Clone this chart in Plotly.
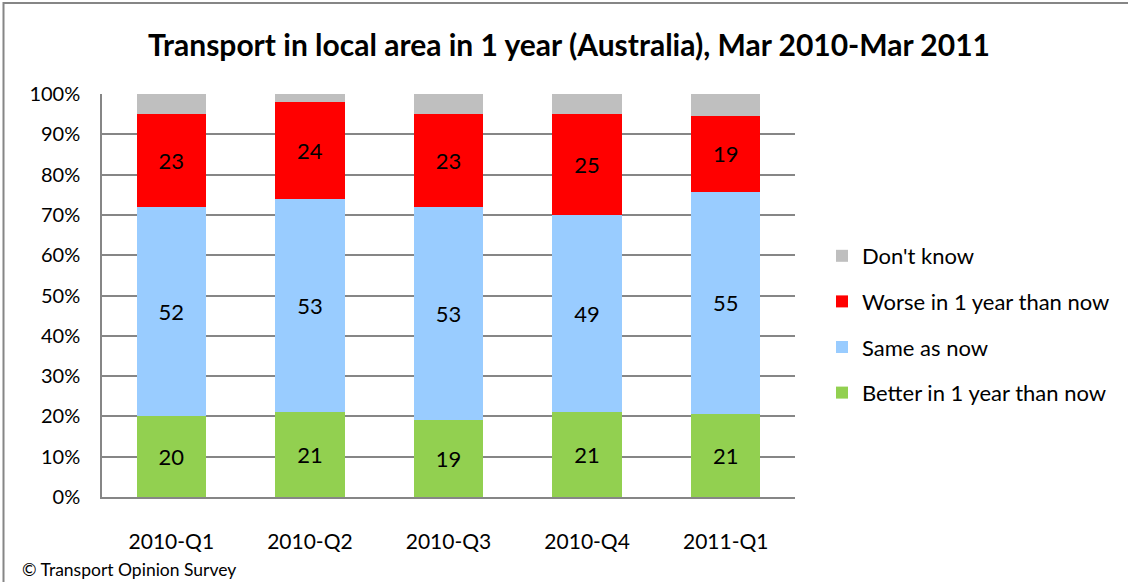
import plotly.graph_objects as go

categories = ["2010-Q1", "2010-Q2", "2010-Q3", "2010-Q4", "2011-Q1"]
better = [20, 21, 19, 21, 20.6]
same = [52, 53, 53, 49, 55.2]
worse = [23, 24, 23, 25, 18.7]
dont_know = [5, 2, 5, 5, 5.5]

series = [
    ("Better in 1 year than now", better, "#92D050", True, 4),
    ("Same as now", same, "#99CCFF", True, 3),
    ("Worse in 1 year than now", worse, "#FF0000", True, 2),
    ("Don't know", dont_know, "#BFBFBF", False, 1),
]

W, H = 1128, 582
L, R, T, B = 102, 333, 94, 85
pw, ph = W - L - R, H - T - B

font_family = "Lato, Liberation Sans, Arial, sans-serif"

fig = go.Figure()
for name, vals, color, show_text, rank in series:
    fig.add_trace(go.Bar(
        x=categories,
        y=vals,
        name=name,
        legendgroup=name,
        legendrank=rank,
        marker=dict(color=color, line=dict(width=0)),
        text=[f"{v:.0f}" for v in vals] if show_text else None,
        textposition="inside" if show_text else "none",
        insidetextanchor="middle",
        constraintext="none",
        textangle=0,
        textfont=dict(family=font_family, size=22, color="black"),
        hoverinfo="x+y+name",
    ))

fig.update_layout(
    width=W,
    height=H,
    barmode="stack",
    bargap=0.5,
    paper_bgcolor="white",
    plot_bgcolor="white",
    margin=dict(l=L, r=R, t=T, b=B, autoexpand=False),
    title=dict(
        text="<b>Transport in local area in 1 year (Australia), Mar 2010-Mar 2011</b>",
        x=(569 - L) / pw, xanchor="center", xref="paper",
        y=1 - 45 / H, yanchor="middle",
        font=dict(family=font_family, size=30, color="black"),
    ),
    font=dict(family=font_family, color="black"),
    legend=dict(
        x=(822 - L) / pw, xanchor="left",
        y=(497 - 235) / ph, yanchor="top",
        traceorder="grouped",
        tracegroupgap=14,
        font=dict(family=font_family, size=22, color="black"),
        bgcolor="rgba(0,0,0,0)",
        itemwidth=30,
    ),
    xaxis=dict(
        showline=True, linecolor="#868686", linewidth=1.5,
        ticks="", showgrid=False,
        tickfont=dict(family=font_family, size=21, color="black"),
        ticklabelstandoff=25,
    ),
    yaxis=dict(
        range=[0, 100],
        tickvals=[0, 10, 20, 30, 40, 50, 60, 70, 80, 90, 100],
        ticktext=[f"{v}%" for v in range(0, 101, 10)],
        showgrid=True, gridcolor="#868686", gridwidth=1.5,
        showline=True, linecolor="#868686", linewidth=1.5,
        ticks="", zeroline=False,
        tickfont=dict(family=font_family, size=20, color="black"),
        ticklabelstandoff=16,
    ),
    annotations=[
        dict(
            text="© Transport Opinion Survey",
            xref="paper", yref="paper",
            x=(20 - L) / pw, y=(497 - 569) / ph,
            xanchor="left", yanchor="middle",
            showarrow=False,
            font=dict(family=font_family, size=17.5, color="black"),
        )
    ],
    shapes=[
        dict(
            type="rect", xref="paper", yref="paper",
            x0=(3.5 - L) / pw, x1=(1140 - L) / pw,
            y0=(497 - 600) / ph, y1=(497 - 3) / ph,
            line=dict(color="#868686", width=2),
            fillcolor="rgba(0,0,0,0)", layer="below",
        )
    ],
)

fig.write_html(
    "out.html",
    config={"displayModeBar": False},
    post_script="document.body.style.margin='0';document.body.style.padding='0';document.body.style.overflow='hidden';",
)
